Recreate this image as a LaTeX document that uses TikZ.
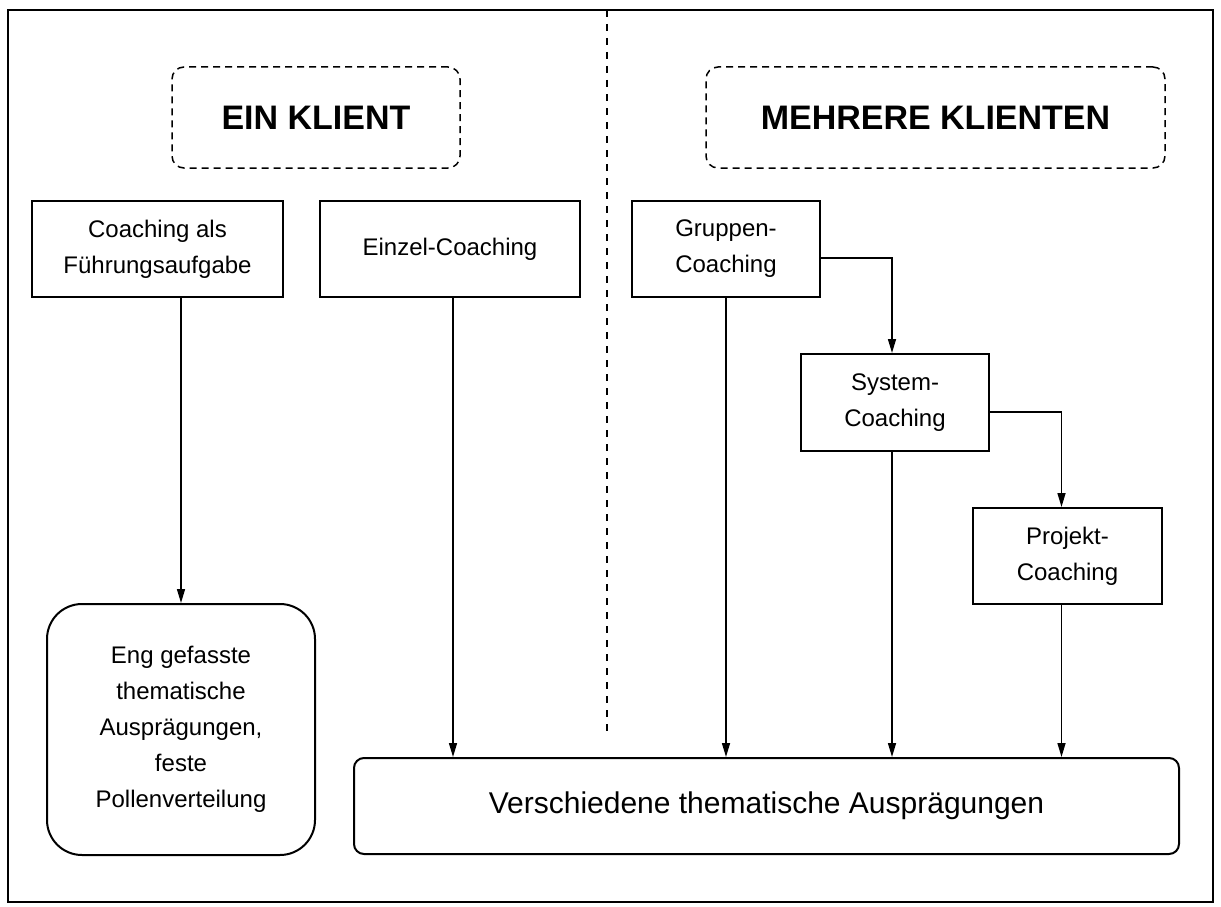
\documentclass[tikz,border=0pt]{standalone}
\usepackage{fontspec}
\setmainfont{Liberation Sans}
\usetikzlibrary{arrows.meta,calc}
\begin{document}
\begin{tikzpicture}[x=1pt,y=-1pt,
  body/.style={font=\fontsize{24}{36}\selectfont},
  head/.style={draw, dashed, dash pattern=on 7pt off 5pt, line width=1.5pt, rounded corners=12pt,
    font=\fontsize{34}{40}\selectfont\bfseries, inner sep=0pt},
  boxn/.style={draw, line width=2pt, body, align=center, inner sep=0pt},
  conn/.style={line width=1.5pt, -{Triangle[length=14pt,width=8pt]}},
  plain/.style={line width=1.5pt}
]
\useasboundingbox (0,0) rectangle (1221,907);
\draw[line width=2pt] (8,10) rectangle (1213,902);
\coordinate (dtop) at (607,10);
\coordinate (dbot) at (607,738);
\draw[line width=1.5pt, dash pattern=on 7pt off 7pt] (dtop) -- (dbot);

\node[head, minimum width=288pt, minimum height=101pt] (ein) at (316,117.5) {EIN KLIENT};
\node[head, minimum width=459pt, minimum height=101pt] (mehr) at (935.5,117.5) {MEHRERE KLIENTEN};

\node[boxn, minimum width=251pt, minimum height=96pt] (cfa) at (157.5,249) {Coaching als\\Führungsaufgabe};
\node[boxn, minimum width=260pt, minimum height=96pt] (ez) at (450,249) {Einzel-Coaching};
\node[boxn, minimum width=188pt, minimum height=96pt] (gr) at (726,249) {Gruppen-\\Coaching};
\node[boxn, minimum width=188pt, minimum height=97pt] (sys) at (895,402.5) {System-\\Coaching};
\node[boxn, minimum width=189pt, minimum height=96pt] (proj) at (1067.5,556) {Projekt-\\Coaching};
\node[boxn, rounded corners=35pt, minimum width=268pt, minimum height=251pt] (eng) at (181,729.5)
  {Eng gefasste\\thematische\\Ausprägungen,\\feste\\Pollenverteilung};
\node[boxn, rounded corners=10pt, minimum width=825pt, minimum height=96pt,
  font=\fontsize{30}{34}\selectfont] (ver) at (766.5,806) {Verschiedene thematische Ausprägungen};

\draw[conn] (cfa.south -| eng.north) -- (eng.north);
\draw[conn] ([xshift=3pt]ez.south) -- ([xshift=3pt]ez.south |- ver.north);
\draw[conn] (gr.south) -- (gr.south |- ver.north);
\draw[conn] ([xshift=-3pt]sys.south) -- ([xshift=-3pt]sys.south |- ver.north);
\draw[conn] ([xshift=-6pt]proj.south) -- ([xshift=-6pt]proj.south |- ver.north);
\draw[conn] ([yshift=-9pt]gr.east) -| ([xshift=-3pt]sys.north);
\draw[conn] ([yshift=-9.5pt]sys.east) -| ([xshift=-6pt]proj.north);
\end{tikzpicture}
\end{document}
